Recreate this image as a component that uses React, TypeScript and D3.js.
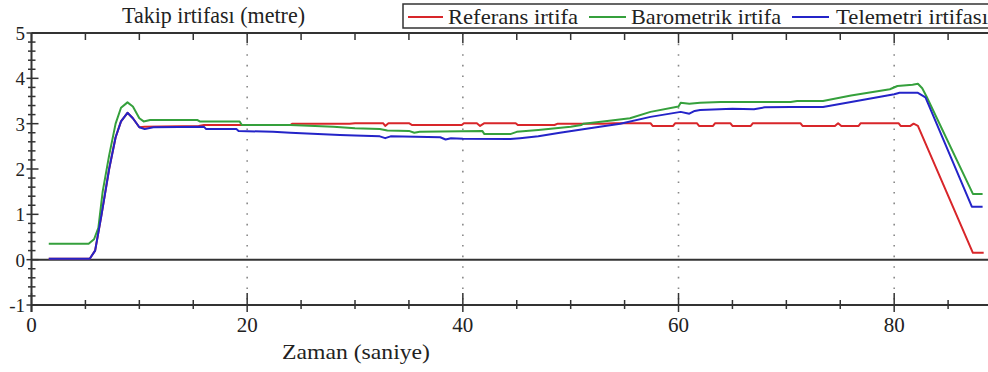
import React from "react";
import * as d3 from "d3";

// ---- data (time in seconds, altitude in metres) ----
const referansX = [1.6, 5.4, 5.9, 6.5, 7.2, 7.8, 8.3, 8.9, 9.4, 10.0, 10.5, 15.5, 16, 24, 24.2, 29.5, 30, 32.6, 32.8, 33.1, 35, 35.3, 39.9, 40.1, 41.3, 41.6, 42, 44.9, 45.1, 48.5, 48.8, 53, 54, 57.4, 57.6, 59.5, 59.7, 61.7, 61.9, 63.2, 63.4, 64.8, 65, 66.7, 66.9, 71.3, 71.5, 74.5, 74.8, 75.1, 76.7, 76.9, 80.4, 80.6, 81.5, 81.8, 82.2, 87.3, 88.3];
const referansY = [0.02, 0.02, 0.2, 1.0, 2.0, 2.7, 3.05, 3.24, 3.12, 2.92, 2.93, 2.95, 2.97, 2.97, 3.0, 3.0, 3.01, 3.01, 2.95, 3.01, 3.01, 2.97, 2.97, 3.01, 3.01, 2.95, 3.01, 3.01, 2.97, 2.97, 3.0, 3.0, 3.01, 3.01, 2.95, 2.95, 3.01, 3.01, 2.95, 2.95, 3.01, 3.01, 2.95, 2.95, 3.01, 3.01, 2.95, 2.95, 3.01, 2.95, 2.95, 3.01, 3.01, 2.95, 2.95, 3.0, 2.95, 0.15, 0.15];

const barometrikX = [1.6, 5.3, 5.8, 6.2, 6.6, 7.2, 7.8, 8.3, 8.9, 9.4, 10.0, 10.4, 11, 15.4, 15.6, 19.3, 19.5, 24, 28, 30, 32.3, 33, 35, 35.5, 36, 41.8, 42, 44.4, 45, 47, 50, 51, 51.2, 53, 55.5, 57.4, 60, 60.2, 61, 62, 63.9, 70.4, 71, 73.4, 76, 79.6, 80.3, 81.7, 82.2, 82.6, 83, 87.3, 88.2];
const barometrikY = [0.35, 0.35, 0.45, 0.7, 1.5, 2.3, 3.0, 3.35, 3.47, 3.38, 3.12, 3.05, 3.08, 3.08, 3.05, 3.05, 2.97, 2.97, 2.93, 2.9, 2.88, 2.85, 2.84, 2.8, 2.82, 2.84, 2.77, 2.77, 2.82, 2.86, 2.93, 2.97, 3.0, 3.05, 3.12, 3.26, 3.38, 3.46, 3.44, 3.46, 3.48, 3.48, 3.5, 3.5, 3.62, 3.76, 3.83, 3.86, 3.88, 3.78, 3.6, 1.45, 1.45];

const telemetriX = [1.6, 5.4, 5.9, 6.5, 7.2, 7.8, 8.3, 8.9, 9.4, 10.0, 10.5, 11.3, 16, 16.2, 19, 19.2, 22.4, 24, 28.6, 30, 32.3, 32.8, 33.3, 37.9, 38.4, 38.9, 40, 44.4, 45.3, 47, 49, 51, 52.7, 54.6, 57.4, 60.2, 61, 61.5, 62, 65, 67, 68, 70.4, 73.4, 76, 80, 80.5, 82.2, 82.9, 87.2, 88.2];
const telemetriY = [0.02, 0.02, 0.2, 1.0, 2.0, 2.7, 3.05, 3.24, 3.12, 2.92, 2.88, 2.92, 2.93, 2.88, 2.88, 2.84, 2.82, 2.8, 2.75, 2.74, 2.72, 2.68, 2.72, 2.7, 2.65, 2.68, 2.67, 2.66, 2.68, 2.72, 2.8, 2.87, 2.93, 3.0, 3.15, 3.26, 3.22, 3.28, 3.3, 3.33, 3.32, 3.36, 3.37, 3.37, 3.48, 3.65, 3.68, 3.68, 3.58, 1.17, 1.17];

const seriesNames = ["Referans irtifa", "Barometrik irtifa", "Telemetri irtifası"];
const seriesColors = ["#d8262a", "#35a03c", "#2424c8"];
const xMajorTicks = [0, 20, 40, 60, 80];
const xGridTicks = [20, 40, 60, 80];
const yLabels = [-1, 0, 1, 2, 3, 4, 5];
const titleText = "Takip irtifası (metre)";
const xAxisTitle = "Zaman (saniye)";

const W = 988;
const H = 372;
const AX = "#333";

export default function App() {
  const x = d3.scaleLinear().domain([0, 88.7]).range([31.5, 988]);
  const y = d3.scaleLinear().domain([-1, 5]).range([305, 33]);
  const line = d3
    .line<[number, number]>()
    .x((d) => x(d[0]))
    .y((d) => y(d[1]));

  const series = [
    referansX.map((v, i) => [v, referansY[i]] as [number, number]),
    barometrikX.map((v, i) => [v, barometrikY[i]] as [number, number]),
    telemetriX.map((v, i) => [v, telemetriY[i]] as [number, number]),
  ];

  const xMinor = d3.range(0, 89, 5);
  const yMinor = d3.range(-1, 5.0001, 0.2).map((v) => Math.round(v * 10) / 10);
  const x0 = x(0);

  const legendItems = [
    { dash: [408, 443], tx: 448, tl: 130 },
    { dash: [589, 626], tx: 631, tl: 150 },
    { dash: [792, 829], tx: 836, tl: 152 },
  ];

  const T = (props: any) => (
    <text {...props} className="lbl" style={{ fontFamily: `"Liberation Serif"` }} fill="#222" />
  );

  return (
    <svg width={W} height={H} style={{ position: "absolute", left: 0, top: 0 }}>
      <style>{`.lbl { font-family: "Liberation Serif", "Tinos", "Times New Roman" !important; }`}</style>
      <rect x={0} y={0} width={W} height={H} fill="#fff" />
      <defs>
        <clipPath id="plotclip">
          <rect x={x0} y={y(5) - 10} width={W - x0} height={y(-1) - y(5) + 20} />
        </clipPath>
      </defs>

      {xGridTicks.map((t) => (
        <line
          key={"g" + t}
          x1={x(t)}
          x2={x(t)}
          y1={y(5)}
          y2={y(-1)}
          stroke="#888"
          strokeWidth={1.6}
          strokeDasharray="1.6 9"
        />
      ))}

      <line x1={x0} x2={W} y1={y(0)} y2={y(0)} stroke="#333" strokeWidth={2} />

      <line x1={x0} x2={W} y1={y(5)} y2={y(5)} stroke={AX} strokeWidth={2} />
      {xMinor.map((t) => (
        <line
          key={"tt" + t}
          x1={x(t)}
          x2={x(t)}
          y1={y(5)}
          y2={y(5) + (t % 20 === 0 ? 10 : 7)}
          stroke={AX}
          strokeWidth={1.5}
        />
      ))}

      <line x1={x0} x2={W} y1={y(-1)} y2={y(-1)} stroke={AX} strokeWidth={2} />
      {xMinor.map((t) => (
        <line
          key={"bt" + t}
          x1={x(t)}
          x2={x(t)}
          y1={y(-1) + (t % 20 === 0 ? -12 : -5)}
          y2={y(-1) + (t % 20 === 0 ? 7 : 4)}
          stroke={AX}
          strokeWidth={1.5}
        />
      ))}
      {xMajorTicks.map((t) => (
        <T key={"xl" + t} x={x(t)} y={332} textAnchor="middle" fontSize={21}>
          {t}
        </T>
      ))}
      <T x={282} y={359} fontSize={22} textLength={148} lengthAdjust="spacingAndGlyphs">
        {xAxisTitle}
      </T>

      <line x1={x0} x2={x0} y1={y(5)} y2={y(-1) + 7} stroke={AX} strokeWidth={2} />
      {yMinor.map((v) => {
        const major = Math.abs(v - Math.round(v)) < 1e-6;
        return (
          <line
            key={"yt" + v}
            x1={x0 - (major ? 5 : 3.5)}
            x2={x0 + (major ? 7 : 4)}
            y1={y(v)}
            y2={y(v)}
            stroke={AX}
            strokeWidth={1.5}
          />
        );
      })}
      {yLabels.map((v) => (
        <T key={"yl" + v} x={25} y={y(v) + 7} textAnchor="end" fontSize={19}>
          {v}
        </T>
      ))}

      <g clipPath="url(#plotclip)">
        {series.map((s, i) => (
          <path
            key={"s" + i}
            d={line(s) || ""}
            fill="none"
            stroke={seriesColors[i]}
            strokeWidth={2}
            strokeLinejoin="round"
          />
        ))}
      </g>

      <T x={122} y={23} fontSize={23} textLength={183} lengthAdjust="spacingAndGlyphs">
        {titleText}
      </T>

      <rect x={403} y={4} width={600} height={24} fill="#fff" stroke="#333" strokeWidth={1.5} />
      {legendItems.map((it, i) => (
        <g key={"lg" + i}>
          <line
            x1={it.dash[0]}
            x2={it.dash[1]}
            y1={17}
            y2={17}
            stroke={seriesColors[i]}
            strokeWidth={2}
          />
          <T x={it.tx} y={24} fontSize={21} textLength={it.tl} lengthAdjust="spacingAndGlyphs">
            {seriesNames[i]}
          </T>
        </g>
      ))}
    </svg>
  );
}
